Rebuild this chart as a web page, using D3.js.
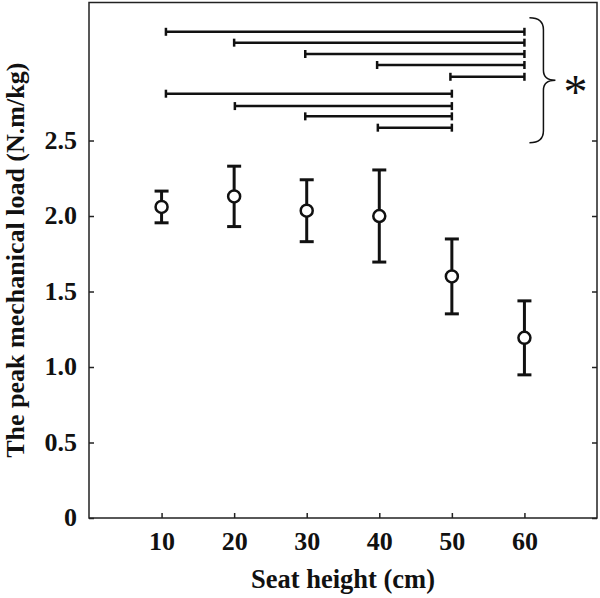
<!DOCTYPE html>
<html>
<head>
<meta charset="utf-8">
<script src="https://cdn.jsdelivr.net/npm/d3@7"></script>
<style>
  body { margin: 0; background: #fff; }
  text { font-family: "Liberation Serif", "Times New Roman", serif; }
</style>
</head>
<body>
<script>
// seat heights and group means / SD
var seatHeight = [10, 20, 30, 40, 50, 60];
var peakLoad = [2.06, 2.13, 2.035, 2.0, 1.6, 1.193];
var loadSD = [0.105, 0.2, 0.205, 0.305, 0.248, 0.245];

// significance bars (from, to, height)
var sigFrom = [10.6, 20, 29.8, 39.7, 49.8, 10.6, 20.1, 29.8, 39.8];
var sigTo = [60, 60, 60, 60, 60, 50, 50, 50, 50];
var sigY = [3.22, 3.148, 3.073, 3.0, 2.922, 2.81, 2.728, 2.66, 2.585];

var xTicks = [10, 20, 30, 40, 50, 60];
var yTicks = [0, 0.5, 1.0, 1.5, 2.0, 2.5];

var margin = {top: 2.5, right: 3, bottom: 80, left: 89}
, W = 600, H = 598
, width = W - margin.left - margin.right
, height = H - margin.top - margin.bottom;

var x = d3.scaleLinear().domain([0, 70]).range([0, width]);
var y = d3.scaleLinear().domain([0, 3.414]).range([height, 0]);

var svg = d3.select("body").append("svg")
  .attr("width", W)
  .attr("height", H)
  .append("g")
  .attr("transform", "translate(" + margin.left + "," + margin.top + ")");

// frame
svg.append("rect")
  .attr("width", width)
  .attr("height", height)
  .attr("fill", "none")
  .attr("stroke", "#222")
  .attr("stroke-width", 1.5);

var fmt = function(d) { return d === 0 ? "0" : d3.format(".1f")(d); };

var yAxis = svg.append("g")
  .call(d3.axisLeft(y).tickValues(yTicks).tickFormat(fmt).tickSize(-5).tickPadding(12));
var yAxisR = svg.append("g")
  .attr("transform", "translate(" + width + ",0)")
  .call(d3.axisRight(y).tickValues(yTicks).tickFormat("").tickSize(-5));
var xAxis = svg.append("g")
  .attr("transform", "translate(0," + height + ")")
  .call(d3.axisBottom(x).tickValues(xTicks).tickSize(-5).tickPadding(14));

[yAxis, yAxisR, xAxis].forEach(function(a) {
  a.select(".domain").remove();
  a.selectAll("line").attr("stroke", "#222").attr("stroke-width", 1.5);
  a.selectAll("text")
    .style("font-family", "Liberation Serif")
    .style("font-weight", "bold")
    .style("font-size", "26px")
    .attr("fill", "#111");
});
yAxis.selectAll("text").attr("dy", "0.3em");

// error bars
var pts = seatHeight.map(function(d, i) { return {x: d, m: peakLoad[i], sd: loadSD[i]}; });
var eb = svg.selectAll(".eb").data(pts).enter().append("g").attr("class", "eb")
  .attr("stroke", "#111").attr("stroke-width", 3).attr("fill", "none");
eb.append("line")
  .attr("x1", function(d) { return x(d.x); }).attr("x2", function(d) { return x(d.x); })
  .attr("y1", function(d) { return y(d.m + d.sd); }).attr("y2", function(d) { return y(d.m - d.sd); });
eb.append("line")
  .attr("x1", function(d) { return x(d.x) - 7; }).attr("x2", function(d) { return x(d.x) + 7; })
  .attr("y1", function(d) { return y(d.m + d.sd); }).attr("y2", function(d) { return y(d.m + d.sd); });
eb.append("line")
  .attr("x1", function(d) { return x(d.x) - 7; }).attr("x2", function(d) { return x(d.x) + 7; })
  .attr("y1", function(d) { return y(d.m - d.sd); }).attr("y2", function(d) { return y(d.m - d.sd); });
eb.append("circle")
  .attr("cx", function(d) { return x(d.x); })
  .attr("cy", function(d) { return y(d.m); })
  .attr("r", 6)
  .attr("fill", "#fff")
  .attr("stroke-width", 2.5);

// significance lines
var sig = sigY.map(function(v, i) { return {a: sigFrom[i], b: sigTo[i], y: v}; });
var sg = svg.selectAll(".sig").data(sig).enter().append("g").attr("class", "sig")
  .attr("stroke", "#111").attr("stroke-width", 2.5);
sg.append("line")
  .attr("x1", function(d) { return x(d.a); }).attr("x2", function(d) { return x(d.b); })
  .attr("y1", function(d) { return y(d.y); }).attr("y2", function(d) { return y(d.y); });
sg.append("line")
  .attr("x1", function(d) { return x(d.a); }).attr("x2", function(d) { return x(d.a); })
  .attr("y1", function(d) { return y(d.y) - 4; }).attr("y2", function(d) { return y(d.y) + 4; });
sg.append("line")
  .attr("x1", function(d) { return x(d.b); }).attr("x2", function(d) { return x(d.b); })
  .attr("y1", function(d) { return y(d.y) - 4; }).attr("y2", function(d) { return y(d.y) + 4; });

// curly brace
var bx = x(60) + 5, bTop = y(sigY[0]) - 14, bBot = y(sigY[sigY.length - 1]) + 15;
var bMid = (bTop + bBot) / 2, bw = 14;
svg.append("path")
  .attr("d", "M" + bx + "," + bTop
    + " Q" + (bx + bw) + "," + bTop + " " + (bx + bw) + "," + (bTop + 12)
    + " L" + (bx + bw) + "," + (bMid - 10)
    + " Q" + (bx + bw) + "," + bMid + " " + (bx + bw + 12) + "," + bMid
    + " Q" + (bx + bw) + "," + bMid + " " + (bx + bw) + "," + (bMid + 10)
    + " L" + (bx + bw) + "," + (bBot - 12)
    + " Q" + (bx + bw) + "," + bBot + " " + bx + "," + bBot)
  .attr("fill", "none")
  .attr("stroke", "#111")
  .attr("stroke-width", 1.5);

svg.append("text")
  .attr("x", bx + bw + 32)
  .attr("y", bMid + 28)
  .attr("text-anchor", "middle")
  .style("font-family", "Liberation Serif")
  .style("font-size", "48px")
  .attr("fill", "#111")
  .text("*");

// axis labels
svg.append("text")
  .attr("x", width / 2)
  .attr("y", height + 70)
  .attr("text-anchor", "middle")
  .style("font-weight", "bold")
  .style("font-size", "26.5px")
  .attr("fill", "#111")
  .text("Seat height (cm)");
svg.append("text")
  .attr("transform", "rotate(-90)")
  .attr("x", -height / 2)
  .attr("y", 24 - margin.left)
  .attr("text-anchor", "middle")
  .style("font-weight", "bold")
  .style("font-size", "26px")
  .attr("fill", "#111")
  .text("The peak mechanical load (N.m/kg)");
</script>
</body>
</html>
